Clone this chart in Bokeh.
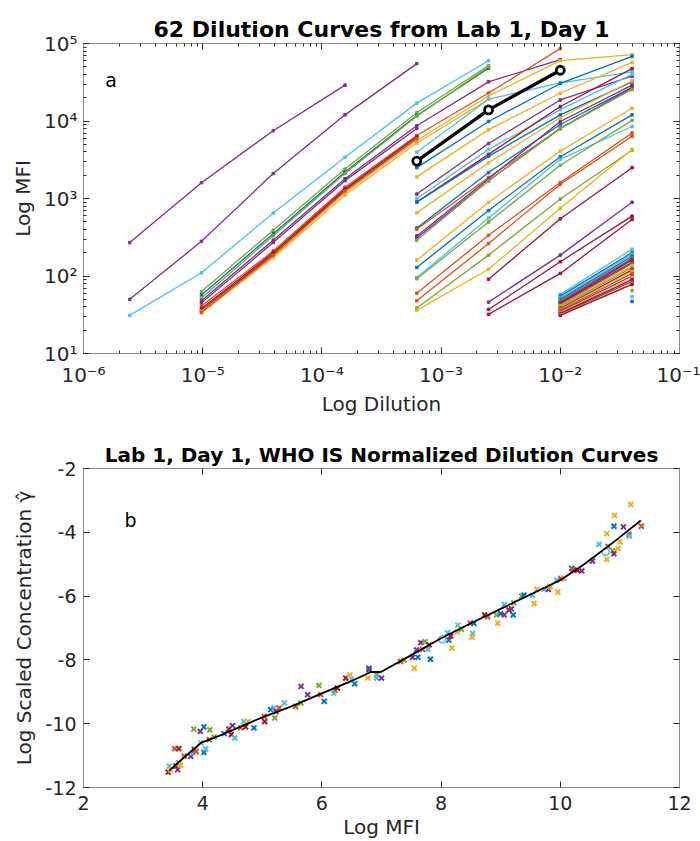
from bokeh.plotting import figure
from bokeh.layouts import column
from bokeh.models import (Range1d, LogAxis, LinearAxis, Label, ColumnDataSource,
                          CustomJSTickFormatter, LogTicker, SingleIntervalTicker)
from bokeh.embed import file_html
from bokeh.resources import INLINE

FONT = "DejaVu Sans"
PAL = {"blue": "#0072BD", "orange": "#D95319", "yellow": "#EDB120", "purple": "#7E2F8E",
       "green": "#77AC30", "cyan": "#4DBEEE", "red": "#A2142F"}

# ---------------- data: panel a ----------------
DILUTIONS = [2.44140625e-6, 9.765625e-6, 3.90625e-5, 1.5625e-4, 6.25e-4, 2.5e-3, 1e-2, 4e-2]

# each curve: index of first dilution, MFI values, colour
curve_start = [
    0, 0, 0,
    1, 1, 1, 1, 1, 1, 1, 1, 1, 1, 1,
    4, 4, 4, 4, 4, 4, 4, 4, 4, 4, 4, 4, 4, 4, 4, 4, 4, 4, 4, 4, 4,
    5, 5, 5, 5,
    6, 6, 6, 6, 6, 6, 6, 6, 6, 6, 6, 6, 6, 6, 6, 6, 6, 6, 6, 6,
    7, 7, 7,
]
curve_mfi = [
    [270, 1600, 7500, 29000],
    [50, 280, 2100, 12000, 55000],
    [31, 110, 650, 3400, 17000, 60000],
    [63, 390, 2400, 12800, 52000],
    [57, 350, 2200, 11800, 48000],
    [52, 330, 2100, 11500, 50000],
    [48, 290, 1800, 8700, 32000, 62000],
    [45, 270, 1700, 8000],
    [41, 210, 1400, 6500, 23000, 86000],
    [38, 200, 1330, 6300],
    [36, 190, 1280, 6000],
    [35, 180, 1200, 5600, 21000, 60000, 72000],
    [33.5, 172, 1110, 5200, 19000],
    [34, 185, 1250, 5900],
    [3960, 19100, 31100, 43000],
    [2500, 9860, 30500, 68200],
    [1900, 7730, 22800, 57000],
    [1140, 5120, 18700, 37900],
    [1000, 4300, 14000, 40000],
    [900, 3710, 15400, 47500],
    [893, 3500, 12000, 32000],
    [653, 2900, 11000, 33000],
    [417, 2160, 9000, 27100],
    [400, 1870, 8000, 26000],
    [329, 1800, 9860, 29000],
    [310, 1690, 8000, 27100],
    [289, 1690, 8130, 25600],
    [160, 893, 4090, 14600],
    [129, 698, 3460, 12000],
    [95.5, 560, 3200, 8500],
    [92, 497, 2680, 10200],
    [60, 335, 1610, 7000],
    [48, 262, 1530, 6350],
    [38.7, 186, 986, 4200],
    [36, 122, 750, 4300],
    [91, 547, 2500],
    [46, 186, 893],
    [37, 153, 592],
    [32, 108, 537],
    [58, 222], [55, 200], [52, 190], [50, 180], [48, 170], [46, 165], [45, 160],
    [44, 150], [42, 145], [41, 135], [40, 128], [38, 120], [37, 115], [36, 108],
    [35, 100], [34, 95], [33, 90], [32, 85], [31.5, 80], [31, 78],
    [65], [54], [47],
]
curve_color = [
    "purple", "purple", "cyan",
    "green", "blue", "green", "purple", "purple", "orange", "red", "red", "yellow", "yellow", "orange",
    "cyan", "blue", "yellow", "purple", "cyan", "red", "blue", "yellow", "blue", "orange", "purple",
    "purple", "green", "yellow", "blue", "cyan", "green", "orange", "orange", "green", "yellow",
    "red", "purple", "red", "red",
    "cyan", "blue", "cyan", "blue", "orange", "blue", "purple", "red", "orange", "yellow", "green",
    "red", "yellow", "orange", "purple", "yellow", "red", "purple", "yellow", "red",
    "green", "cyan", "blue",
]
highlight_start = 4
highlight_mfi = [3040, 13900, 45200]

# ---------------- data: panel b ----------------
pts_mfi = [3.42, 3.44, 3.46, 3.55, 3.53, 3.60, 3.58, 3.60, 3.63, 3.69, 3.80, 3.83, 3.86, 3.89,
           3.85, 3.96, 4.02, 4.12, 3.97, 4.02, 4.05, 4.11, 4.19, 4.36, 4.44, 4.50, 4.48, 4.54,
           4.64, 4.69, 4.76, 4.72, 4.86, 5.03, 5.04, 5.14, 5.20, 5.21, 5.23, 5.28, 5.37, 5.56,
           5.65, 5.65, 5.76, 5.95, 6.04, 5.98, 6.20, 6.22, 6.26, 6.40, 6.47, 6.55, 6.50, 6.77,
           6.79, 6.79, 6.92, 6.92, 7.00, 7.32, 7.38, 7.52, 7.55, 7.59, 7.61, 7.66, 7.73, 7.69,
           7.80, 7.82, 7.78, 8.11, 8.13, 8.16, 8.18, 8.27, 8.28, 8.34, 8.49, 8.53, 8.52, 8.55,
           8.73, 8.78, 8.95, 8.93, 9.00, 9.06, 9.06, 9.14, 9.21, 9.18, 9.22, 9.35, 9.39, 9.56,
           9.53, 9.61, 9.73, 9.80, 9.83, 9.94, 9.96, 10.01, 10.06, 10.19, 10.21, 10.29, 10.36,
           10.54, 10.65, 10.78, 10.78, 10.80, 10.88, 10.90, 10.91, 10.90, 10.97, 11.00, 11.06,
           11.15, 11.16, 11.18, 11.36]
pts_conc = [-11.52, -11.33, -11.44, -11.33, -10.78, -10.78, -11.44, -11.23, -11.30, -11.02,
            -11.02, -10.92, -10.81, -10.87, -10.17, -10.24, -10.10, -10.19, -10.60, -10.90,
            -10.79, -10.50, -10.42, -10.31, -10.17, -10.06, -10.34, -10.45, -10.13, -9.93,
            -9.93, -10.10, -10.13, -9.77, -9.93, -9.56, -9.51, -9.82, -9.62, -9.51, -9.35,
            -9.46, -9.35, -8.83, -9.09, -8.80, -9.30, -9.09, -9.04, -8.95, -8.88, -8.57,
            -8.47, -8.75, -8.62, -8.57, -8.26, -8.31, -8.47, -8.57, -8.57, -8.05, -8.00,
            -7.92, -8.26, -7.69, -7.92, -7.46, -7.43, -7.67, -7.53, -7.98, -7.67, -7.15,
            -7.38, -7.25, -7.63, -7.12, -6.91, -7.04, -6.85, -7.17, -7.29, -6.85, -6.59,
            -6.65, -6.85, -6.59, -6.55, -6.26, -6.59, -6.44, -6.59, -6.40, -6.21, -6.00,
            -5.97, -6.23, -5.97, -5.79, -5.79, -5.79, -5.70, -5.50, -5.87, -5.45, -5.45,
            -5.13, -5.18, -5.19, -5.21, -4.90, -4.38, -4.85, -4.04, -4.44, -4.58, -4.67,
            -3.47, -3.81, -4.51, -4.30, -3.83, -4.06, -4.12, -3.13, -3.81]
pts_color = ["red", "cyan", "yellow", "red", "orange", "red", "purple", "green", "yellow", "orange",
             "purple", "cyan", "purple", "orange", "green", "purple", "blue", "green", "cyan", "blue",
             "cyan", "orange", "green", "blue", "red", "purple", "red", "cyan", "orange", "cyan",
             "yellow", "red", "blue", "orange", "red", "blue", "cyan", "green", "purple", "orange",
             "cyan", "orange", "green", "purple", "purple", "green", "blue", "orange", "cyan", "green",
             "red", "red", "yellow", "blue", "cyan", "yellow", "blue", "purple", "green", "cyan",
             "purple", "orange", "green", "purple", "yellow", "purple", "blue", "purple", "green", "orange",
             "red", "blue", "cyan", "cyan", "blue", "red", "yellow", "yellow", "cyan", "green",
             "orange", "cyan", "yellow", "blue", "red", "orange", "yellow", "green", "blue", "cyan",
             "purple", "red", "blue", "purple", "green", "green", "blue", "yellow", "cyan", "yellow",
             "cyan", "purple", "yellow", "cyan", "yellow", "orange", "yellow", "blue", "orange", "red",
             "purple", "purple", "cyan", "yellow", "yellow", "orange", "green", "purple", "yellow", "blue",
             "yellow", "yellow", "purple", "orange", "cyan", "yellow", "orange"]
circ_mfi = [8.02, 10.76]
circ_conc = [-7.35, -4.62]
circ_color = ["cyan", "cyan"]

fit_mfi = [3.44, 3.6, 3.97, 4.25, 4.5, 5.0, 5.5, 6.0, 6.5, 6.82, 6.99, 7.5, 8.0, 8.5, 9.0, 9.5,
           10.0, 10.4, 10.9, 11.35]
fit_conc = [-11.47, -11.2, -10.6, -10.4, -10.2, -9.8, -9.45, -9.05, -8.66, -8.38, -8.38, -7.85,
            -7.32, -6.85, -6.4, -5.95, -5.5, -5.0, -4.3, -3.63]

# ---------------- styling helpers ----------------
TXT = "#262626"
FRAME = "#8c8c8c"

LOG_FMT = """
const sup = {'-': '\\u207B', '0': '\\u2070', '1': '\\u00B9', '2': '\\u00B2', '3': '\\u00B3',
             '4': '\\u2074', '5': '\\u2075', '6': '\\u2076', '7': '\\u2077', '8': '\\u2078', '9': '\\u2079'};
const e = Math.round(Math.log10(tick));
return '10' + String(e).split('').map(c => sup[c]).join('');
"""
INT_FMT = "return tick.toFixed(0);"
EMPTY_FMT = "return '';"


def style_axis(ax, label_size="19px"):
    ax.axis_line_color = FRAME
    ax.major_tick_line_color = TXT
    ax.minor_tick_line_color = TXT
    ax.major_tick_in = 6
    ax.major_tick_out = 0
    ax.minor_tick_in = 3
    ax.minor_tick_out = 0
    ax.major_label_text_font = FONT
    ax.major_label_text_font_size = label_size
    ax.major_label_text_color = TXT
    ax.axis_label_text_font = FONT
    ax.axis_label_text_font_size = "20px"
    ax.axis_label_text_font_style = "normal"
    ax.axis_label_text_color = TXT


# ---------------- panel a ----------------
p1 = figure(width=700, height=418, x_axis_type="log", y_axis_type="log",
            x_range=Range1d(1e-6, 1e-1), y_range=Range1d(10, 1e5),
            output_backend="svg", toolbar_location=None,
            min_border_left=82, min_border_right=21, min_border_top=43, min_border_bottom=62)
p1.title.text = "62 Dilution Curves from Lab 1, Day 1"
p1.title.align = "center"
p1.title.text_font = FONT
p1.title.text_font_size = "22px"
p1.title.text_font_style = "bold"
p1.title.text_color = "#000000"
p1.title.standoff = 4
p1.xgrid.visible = False
p1.ygrid.visible = False
p1.outline_line_color = FRAME

for ax in (p1.xaxis[0], p1.yaxis[0]):
    style_axis(ax, "20px")
    ax.ticker = LogTicker(num_minor_ticks=10)
    ax.formatter = CustomJSTickFormatter(code=LOG_FMT)
p1.xaxis.major_label_standoff = 9
p1.yaxis.major_label_standoff = 6
p1.xaxis.axis_label = "Log Dilution"
p1.yaxis.axis_label = "Log MFI"
p1.xaxis.axis_label_standoff = 2
p1.yaxis.axis_label_standoff = 6
for side in ("above", "right"):
    ax = LogAxis(ticker=LogTicker(num_minor_ticks=10),
                 formatter=CustomJSTickFormatter(code=EMPTY_FMT))
    style_axis(ax)
    ax.major_label_text_font_size = "0px"
    ax.major_label_standoff = 0
    p1.add_layout(ax, side)

for st, vals, col in zip(curve_start, curve_mfi, curve_color):
    xs = DILUTIONS[st:st + len(vals)]
    c = PAL[col]
    if len(vals) > 1:
        p1.line(xs, vals, line_color=c, line_width=1.3)
    p1.scatter(xs, vals, marker="square", size=2.5, fill_color=c, line_color=c)

hx = DILUTIONS[highlight_start:highlight_start + len(highlight_mfi)]
p1.line(hx, highlight_mfi, line_color="black", line_width=3.2)
p1.scatter(hx, highlight_mfi, marker="circle", size=8, fill_color="white",
           line_color="black", line_width=2.8)

p1.add_layout(Label(x=1.7e-6, y=3.4e4, text="a", text_font=FONT, text_font_size="19px",
                    text_align="center", text_baseline="middle", text_color="#000000"))

# ---------------- panel b ----------------
p2 = figure(width=700, height=423, x_range=Range1d(2, 12), y_range=Range1d(-12, -2),
            output_backend="svg", toolbar_location=None,
            min_border_left=83, min_border_right=21, min_border_top=50, min_border_bottom=53)
p2.title.text = "Lab 1, Day 1, WHO IS Normalized Dilution Curves"
p2.title.align = "center"
p2.title.text_font = FONT
p2.title.text_font_size = "20px"
p2.title.text_font_style = "bold"
p2.title.text_color = "#000000"
p2.title.standoff = 4
p2.xgrid.visible = False
p2.ygrid.visible = False
p2.outline_line_color = FRAME

for ax in (p2.xaxis[0], p2.yaxis[0]):
    style_axis(ax, "19px")
    ax.ticker = SingleIntervalTicker(interval=2, num_minor_ticks=0)
    ax.formatter = CustomJSTickFormatter(code=INT_FMT)
    ax.minor_tick_line_color = None
p2.xaxis.major_label_standoff = 8
p2.yaxis.major_label_standoff = 7
p2.xaxis.axis_label = "Log MFI"
p2.yaxis.axis_label = "Log Scaled Concentration \u03b3\u0302"
p2.xaxis.axis_label_standoff = 2
p2.yaxis.axis_label_standoff = 6
for side in ("above", "right"):
    ax = LinearAxis(ticker=SingleIntervalTicker(interval=2, num_minor_ticks=0),
                    formatter=CustomJSTickFormatter(code=EMPTY_FMT))
    style_axis(ax)
    ax.minor_tick_line_color = None
    ax.major_label_text_font_size = "0px"
    ax.major_label_standoff = 0
    p2.add_layout(ax, side)

src = ColumnDataSource(dict(x=pts_mfi, y=pts_conc, c=[PAL[k] for k in pts_color]))
p2.scatter("x", "y", source=src, marker="x", size=7, line_width=2, line_color="c")
p2.scatter(circ_mfi, circ_conc, marker="circle", size=7, fill_color=None, line_width=1.5,
           line_color=[PAL[k] for k in circ_color])
p2.line(fit_mfi, fit_conc, line_color="black", line_width=1.8)

p2.add_layout(Label(x=2.79, y=-3.63, text="b", text_font=FONT, text_font_size="19px",
                    text_align="center", text_baseline="middle", text_color="#000000"))

layout = column(p1, p2, spacing=0)
open("out.html", "w").write(file_html(layout, INLINE))
